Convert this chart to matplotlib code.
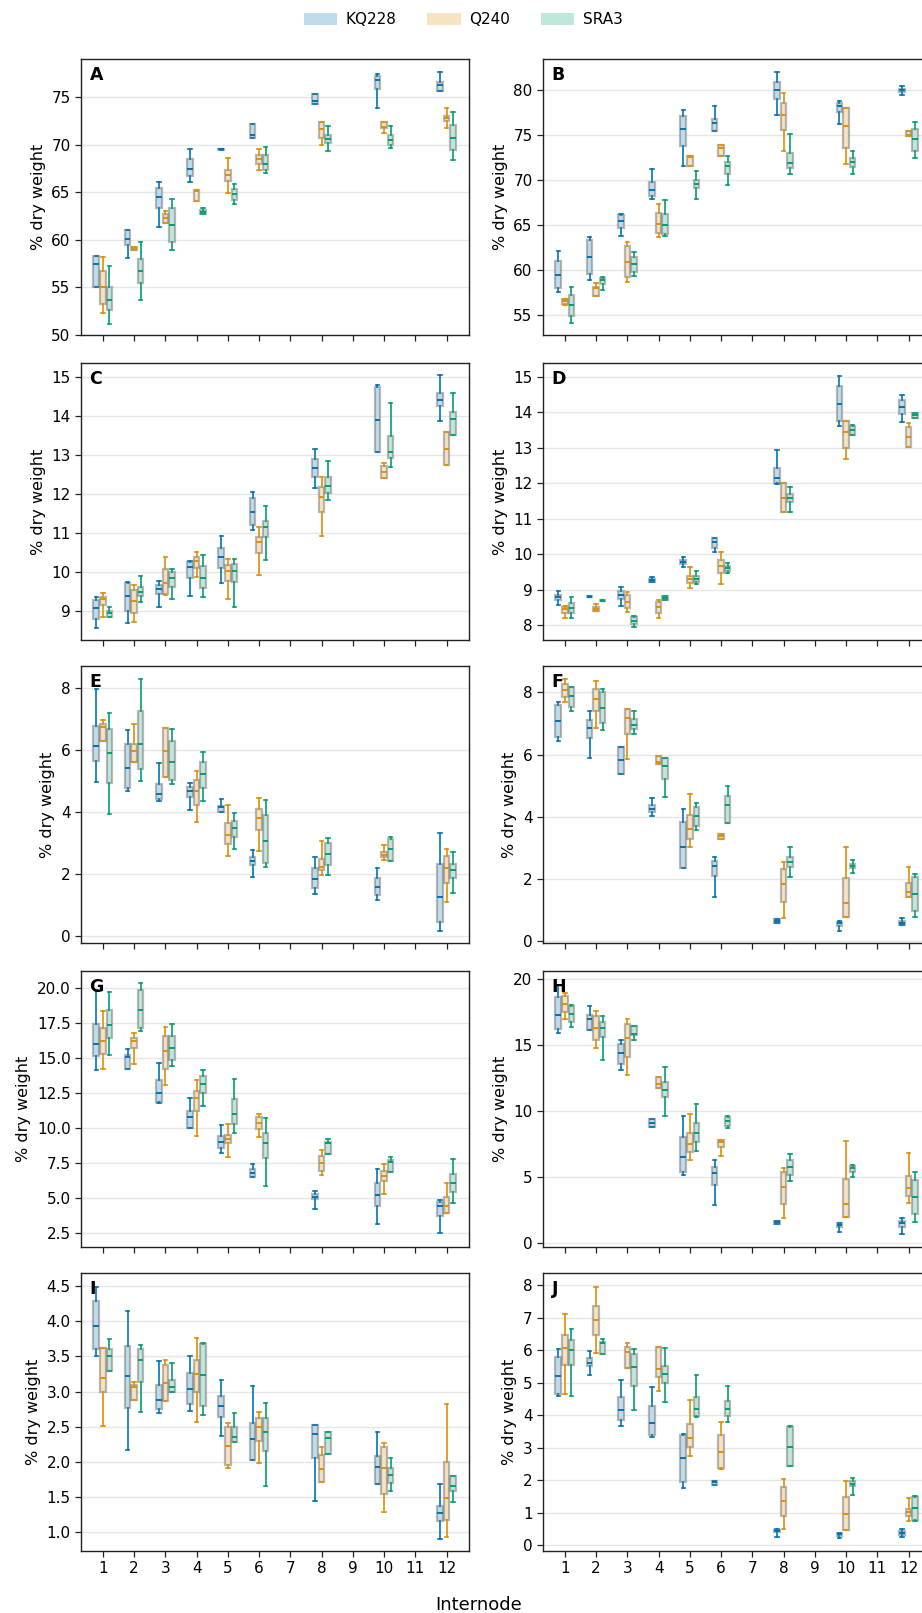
import matplotlib
matplotlib.use("Agg")
import matplotlib.pyplot as plt
from matplotlib.patches import Patch
from matplotlib.ticker import MultipleLocator

# ---------------- data ----------------
internodes = [1, 2, 3, 4, 5, 6, 8, 10, 12]
xticks = list(range(1, 13))
genotypes = ["KQ228", "Q240", "SRA3"]
colors = ["#0173B2", "#DE8F05", "#029E73"]
panel_letters = ["A", "B", "C", "D", "E", "F", "G", "H", "I", "J"]

# each row: [whisker_low, q1, median, q3, whisker_high], one row per internode
A_KQ228 = [[55.0, 55.0, 57.5, 58.3, 58.3], [58.05, 59.45, 60.05, 61.0, 61.0], [61.4, 63.3, 64.5, 65.4, 66.05],
           [66.07, 66.7, 67.45, 68.45, 69.5], [69.4, 69.4, 69.5, 69.55, 69.55], [70.65, 70.65, 71.0, 72.2, 72.2],
           [74.25, 74.25, 74.6, 75.3, 75.3], [73.8, 75.8, 76.8, 77.2, 77.4], [75.65, 75.65, 76.3, 76.6, 77.65]]
A_Q240 = [[52.35, 53.3, 55.0, 56.7, 58.2], [58.95, 58.95, 59.1, 59.25, 59.25], [61.8, 61.8, 62.25, 62.7, 63.05],
          [64.1, 64.1, 65.1, 65.2, 65.2], [64.9, 66.2, 66.85, 67.3, 68.55], [67.3, 68.0, 68.5, 68.9, 69.5],
          [70.0, 70.75, 71.6, 72.4, 72.4], [71.2, 71.7, 71.9, 72.4, 72.4], [71.75, 72.5, 72.8, 73.0, 73.9]]
A_SRA3 = [[51.2, 52.6, 53.7, 55.0, 57.25], [53.7, 55.5, 56.75, 57.95, 59.8], [58.9, 59.8, 61.55, 63.3, 64.3],
          [62.7, 62.7, 62.9, 63.1, 63.35], [63.75, 64.2, 64.8, 65.3, 65.85], [67.05, 67.3, 68.0, 68.9, 69.8],
          [69.35, 70.2, 70.55, 71.0, 71.95], [69.7, 69.95, 70.5, 71.0, 71.95], [68.4, 69.4, 70.75, 72.1, 73.45]]

B_KQ228 = [[57.6, 58.05, 59.45, 61.05, 62.1], [58.9, 59.6, 61.5, 63.35, 63.7], [63.85, 64.65, 65.5, 66.2, 66.3],
           [67.9, 68.3, 68.9, 69.85, 71.3], [71.6, 73.85, 75.75, 77.15, 77.8], [75.5, 75.5, 76.35, 76.8, 78.3],
           [77.25, 79.1, 80.1, 80.9, 82.05], [76.3, 77.6, 78.3, 78.65, 78.85], [79.5, 79.8, 80.0, 80.2, 80.5]]
B_Q240 = [[56.1, 56.3, 56.6, 56.85, 56.85], [57.1, 57.1, 58.0, 58.1, 58.6], [58.75, 59.2, 60.97, 62.7, 63.2],
          [63.7, 64.1, 65.1, 66.35, 67.35], [71.6, 71.6, 72.6, 72.7, 72.7], [72.75, 72.75, 73.65, 73.9, 73.9],
          [73.25, 75.6, 77.3, 78.65, 79.75], [71.8, 73.55, 76.05, 78.0, 78.0], [74.9, 74.9, 75.0, 75.5, 75.5]]
B_SRA3 = [[54.1, 54.9, 56.1, 57.2, 58.1], [57.85, 58.5, 58.95, 59.15, 59.25], [59.35, 59.8, 60.65, 61.5, 62.0],
          [63.8, 64.0, 65.0, 66.3, 67.8], [67.9, 69.1, 69.55, 70.0, 71.0], [69.45, 70.7, 71.6, 72.05, 72.7],
          [70.7, 71.4, 71.95, 73.0, 75.2], [70.7, 71.5, 72.0, 72.45, 73.3], [72.5, 73.25, 74.55, 75.7, 76.5]]

C_KQ228 = [[8.57, 8.8, 9.07, 9.27, 9.35], [8.68, 8.99, 9.38, 9.7, 9.74], [9.1, 9.44, 9.57, 9.66, 9.77],
           [9.37, 9.84, 10.12, 10.26, 10.28], [9.7, 10.09, 10.38, 10.62, 10.92], [11.07, 11.2, 11.54, 11.88, 12.05],
           [12.15, 12.44, 12.67, 12.89, 13.15], [13.08, 13.08, 13.88, 14.73, 14.79], [13.87, 14.25, 14.41, 14.57, 15.03]]
C_Q240 = [[8.85, 9.15, 9.29, 9.34, 9.45], [8.71, 8.93, 9.24, 9.53, 9.66], [9.4, 9.42, 9.72, 10.08, 10.37],
          [9.87, 10.1, 10.27, 10.38, 10.51], [9.29, 9.76, 10.02, 10.17, 10.32], [9.91, 10.47, 10.76, 10.9, 11.14],
          [10.92, 11.52, 11.91, 12.17, 12.44], [12.39, 12.39, 12.56, 12.72, 12.78], [12.74, 12.74, 13.15, 13.57, 13.57]]
C_SRA3 = [[8.85, 8.85, 8.93, 8.99, 9.09], [9.23, 9.38, 9.47, 9.6, 9.89], [9.29, 9.62, 9.83, 9.99, 10.07],
          [9.35, 9.59, 9.85, 10.15, 10.44], [9.09, 9.73, 10.03, 10.19, 10.33], [10.3, 10.9, 11.14, 11.29, 11.68],
          [11.84, 12.03, 12.2, 12.42, 12.85], [12.68, 12.91, 13.08, 13.48, 14.33], [13.5, 13.5, 13.91, 14.1, 14.58]]

D_KQ228 = [[8.58, 8.72, 8.78, 8.85, 8.95], [8.78, 8.78, 8.8, 8.82, 8.82], [8.54, 8.73, 8.85, 8.97, 9.08],
           [9.21, 9.21, 9.26, 9.3, 9.35], [9.64, 9.71, 9.78, 9.83, 9.91], [10.07, 10.18, 10.34, 10.46, 10.46],
           [11.97, 12.01, 12.14, 12.43, 12.95], [13.61, 13.76, 14.23, 14.75, 15.03], [13.73, 13.94, 14.15, 14.34, 14.48]]
D_Q240 = [[8.19, 8.33, 8.44, 8.5, 8.54], [8.39, 8.39, 8.46, 8.52, 8.59], [8.38, 8.47, 8.66, 8.86, 8.92],
          [8.19, 8.35, 8.52, 8.66, 8.72], [9.05, 9.2, 9.3, 9.39, 9.63], [9.15, 9.46, 9.66, 9.83, 10.05],
          [11.18, 11.18, 11.58, 12.01, 12.01], [12.68, 13.0, 13.44, 13.76, 13.76], [13.01, 13.01, 13.29, 13.59, 13.71]]
D_SRA3 = [[8.19, 8.33, 8.49, 8.63, 8.78], [8.68, 8.68, 8.69, 8.7, 8.7], [7.95, 8.02, 8.12, 8.22, 8.26],
          [8.71, 8.71, 8.76, 8.81, 8.81], [9.15, 9.22, 9.3, 9.38, 9.53], [9.46, 9.53, 9.6, 9.66, 9.76],
          [11.18, 11.46, 11.58, 11.69, 11.9], [13.37, 13.37, 13.51, 13.61, 13.63], [13.83, 13.83, 13.92, 13.99, 13.99]]

E_KQ228 = [[4.98, 5.65, 6.13, 6.78, 7.98], [4.68, 4.76, 5.43, 6.2, 6.64], [4.35, 4.41, 4.57, 4.9, 5.57],
           [4.05, 4.49, 4.69, 4.82, 4.92], [4.01, 4.01, 4.17, 4.2, 4.42], [1.9, 2.28, 2.41, 2.53, 2.78],
           [1.34, 1.55, 1.83, 2.17, 2.55], [1.15, 1.31, 1.57, 1.85, 2.17], [0.15, 0.45, 1.26, 2.3, 3.33]]
E_Q240 = [[6.31, 6.31, 6.74, 6.85, 6.97], [5.62, 5.62, 5.96, 6.2, 6.85], [5.14, 5.14, 5.96, 6.72, 6.73],
          [3.66, 4.23, 4.67, 5.03, 5.33], [2.57, 2.96, 3.25, 3.63, 4.22], [2.74, 3.41, 3.79, 4.08, 4.44],
          [1.96, 2.12, 2.23, 2.48, 3.07], [2.46, 2.55, 2.62, 2.69, 2.92], [1.09, 1.69, 2.19, 2.57, 2.79]]
E_SRA3 = [[3.92, 4.92, 5.9, 6.68, 7.19], [5.0, 5.38, 6.2, 7.27, 8.29], [4.89, 5.03, 5.62, 6.31, 6.69],
          [4.35, 4.78, 5.22, 5.6, 5.93], [2.79, 3.2, 3.49, 3.72, 3.97], [2.23, 2.36, 3.07, 3.91, 4.39],
          [1.96, 2.27, 2.65, 3.0, 3.17], [2.42, 2.42, 2.8, 3.11, 3.19], [1.39, 1.85, 2.11, 2.31, 2.71]]

F_KQ228 = [[6.44, 6.55, 7.08, 7.59, 7.68], [5.9, 6.52, 6.86, 7.11, 7.41], [5.36, 5.36, 5.82, 6.25, 6.25],
           [4.02, 4.14, 4.25, 4.39, 4.61], [2.33, 2.33, 3.02, 3.82, 4.26], [1.41, 2.09, 2.41, 2.57, 2.7],
           [0.58, 0.58, 0.65, 0.7, 0.7], [0.32, 0.48, 0.56, 0.62, 0.64], [0.51, 0.51, 0.58, 0.65, 0.74]]
F_Q240 = [[7.68, 7.84, 8.08, 8.27, 8.42], [6.86, 7.41, 7.79, 8.1, 8.38], [5.85, 6.65, 7.17, 7.46, 7.46],
          [5.69, 5.69, 5.77, 5.95, 5.96], [3.02, 3.29, 3.6, 4.04, 4.73], [3.29, 3.29, 3.37, 3.43, 3.43],
          [0.74, 1.24, 1.83, 2.32, 2.55], [0.78, 0.78, 1.23, 2.01, 3.03], [1.42, 1.42, 1.56, 1.87, 2.39]]
F_SRA3 = [[7.41, 7.54, 7.88, 8.18, 8.18], [6.79, 7.02, 7.51, 8.01, 8.12], [6.66, 6.81, 6.95, 7.14, 7.41],
          [4.63, 5.2, 5.63, 5.9, 5.9], [3.57, 3.71, 4.02, 4.32, 4.45], [3.81, 3.81, 4.39, 4.67, 4.98],
          [2.05, 2.39, 2.54, 2.69, 3.03], [2.17, 2.33, 2.4, 2.49, 2.6], [0.78, 0.96, 1.51, 2.04, 2.15]]

G_KQ228 = [[14.1, 15.1, 16.0, 17.39, 19.8], [14.22, 14.22, 15.06, 15.17, 15.6], [11.73, 11.8, 12.44, 13.39, 14.63],
           [9.95, 9.95, 10.78, 11.2, 12.13], [8.21, 8.57, 8.95, 9.42, 10.18], [6.45, 6.45, 6.78, 7.02, 7.38],
           [4.17, 4.88, 5.07, 5.24, 5.48], [3.12, 4.41, 5.19, 6.02, 7.07], [2.45, 3.72, 4.4, 4.71, 4.83]]
G_Q240 = [[14.15, 15.29, 16.2, 17.08, 18.34], [14.51, 15.65, 16.2, 16.41, 16.79], [13.04, 14.18, 15.46, 16.53, 17.2],
          [9.4, 11.2, 12.08, 12.61, 13.39], [7.88, 8.88, 9.18, 9.47, 10.23], [9.35, 9.87, 10.35, 10.73, 10.97],
          [6.62, 6.93, 7.5, 8.0, 8.4], [5.26, 6.19, 6.57, 6.93, 7.38], [3.93, 3.93, 4.4, 5.07, 6.02]]
G_SRA3 = [[15.22, 16.41, 17.36, 18.38, 19.69], [16.89, 17.12, 18.43, 19.81, 20.33], [14.41, 14.82, 15.65, 16.53, 17.39],
          [11.56, 12.44, 13.11, 13.68, 14.1], [9.64, 10.23, 11.0, 12.04, 13.44], [5.83, 7.81, 8.92, 9.64, 10.66],
          [8.11, 8.11, 8.88, 8.99, 9.18], [6.86, 6.86, 7.52, 7.69, 7.92], [4.64, 5.43, 6.02, 6.66, 7.78]]

H_KQ228 = [[15.96, 16.21, 17.32, 18.66, 19.55], [16.19, 16.19, 16.97, 17.32, 17.95], [13.16, 13.61, 14.42, 15.13, 15.38],
           [8.81, 8.81, 9.12, 9.44, 9.44], [5.15, 5.4, 6.54, 8.06, 9.62], [2.88, 4.39, 5.28, 5.78, 6.29],
           [1.44, 1.44, 1.57, 1.69, 1.69], [0.85, 1.24, 1.36, 1.49, 1.49], [0.7, 1.24, 1.49, 1.69, 1.87]]
H_Q240 = [[17.02, 17.53, 18.1, 18.71, 18.99], [14.8, 15.38, 16.34, 17.2, 17.6], [12.78, 14.12, 15.56, 16.64, 17.02],
          [11.79, 11.79, 12.05, 12.6, 12.6], [6.29, 6.92, 7.5, 8.36, 9.75], [6.59, 7.25, 7.68, 7.85, 7.85],
          [1.92, 2.93, 4.27, 5.35, 5.66], [2.0, 2.0, 2.93, 4.82, 7.75], [3.0, 3.59, 4.14, 5.08, 6.84]]
H_SRA3 = [[16.39, 16.77, 17.4, 17.95, 18.03], [13.91, 15.63, 16.34, 16.74, 17.22], [15.38, 15.76, 15.83, 16.44, 16.44],
          [9.65, 11.04, 11.64, 12.2, 13.36], [7.0, 7.68, 8.36, 9.14, 10.53], [8.76, 8.86, 9.27, 9.57, 9.62],
          [4.72, 5.15, 5.73, 6.29, 6.74], [5.03, 5.35, 5.71, 5.88, 5.91], [1.62, 2.2, 3.51, 4.77, 5.35]]

I_KQ228 = [[3.51, 3.6, 3.93, 4.29, 4.48], [2.17, 2.76, 3.22, 3.65, 4.14], [2.7, 2.75, 2.88, 3.09, 3.43],
           [2.73, 2.83, 3.03, 3.27, 3.5], [2.37, 2.64, 2.8, 2.94, 3.16], [2.03, 2.03, 2.33, 2.55, 3.08],
           [1.45, 2.05, 2.39, 2.52, 2.53], [1.68, 1.68, 1.93, 2.08, 2.42], [0.91, 1.16, 1.27, 1.38, 1.69]]
I_Q240 = [[2.51, 3.0, 3.19, 3.62, 3.62], [2.88, 2.88, 3.06, 3.09, 3.14], [2.86, 2.86, 3.12, 3.38, 3.45],
          [2.57, 3.0, 3.25, 3.45, 3.76], [1.91, 1.95, 2.22, 2.49, 2.56], [1.99, 2.3, 2.5, 2.63, 2.71],
          [1.72, 1.72, 1.9, 2.1, 2.21], [1.29, 1.55, 1.92, 2.21, 2.27], [0.94, 1.18, 1.49, 2.0, 2.83]]
I_SRA3 = [[3.29, 3.29, 3.51, 3.6, 3.75], [2.71, 3.14, 3.45, 3.61, 3.66], [3.0, 3.0, 3.06, 3.16, 3.4],
          [2.67, 2.79, 3.24, 3.68, 3.69], [2.29, 2.29, 2.36, 2.49, 2.7], [1.66, 2.15, 2.43, 2.62, 2.84],
          [2.11, 2.11, 2.34, 2.42, 2.42], [1.58, 1.7, 1.81, 1.92, 2.05], [1.43, 1.59, 1.66, 1.8, 1.8]]

J_KQ228 = [[4.59, 4.65, 5.21, 5.8, 6.05], [5.25, 5.51, 5.62, 5.75, 5.98], [3.67, 3.85, 4.16, 4.57, 5.08],
           [3.32, 3.39, 3.77, 4.29, 4.86], [1.77, 1.96, 2.69, 3.39, 3.44], [1.85, 1.85, 1.94, 1.98, 1.98],
           [0.25, 0.4, 0.44, 0.47, 0.5], [0.22, 0.29, 0.35, 0.39, 0.39], [0.25, 0.32, 0.39, 0.45, 0.5]]
J_Q240 = [[4.65, 5.54, 6.07, 6.48, 7.13], [5.93, 6.48, 6.94, 7.36, 7.95], [5.46, 5.46, 5.95, 6.11, 6.23],
          [4.74, 5.18, 5.44, 6.11, 6.11], [2.76, 3.03, 3.29, 3.72, 4.47], [2.34, 2.39, 2.88, 3.41, 3.79],
          [0.5, 0.9, 1.36, 1.78, 2.05], [0.47, 0.47, 0.96, 1.5, 1.98], [0.76, 0.9, 1.01, 1.11, 1.47]]
J_SRA3 = [[4.6, 5.54, 6.02, 6.31, 6.65], [5.9, 5.9, 6.23, 6.26, 6.36], [4.16, 4.91, 5.49, 5.88, 6.05],
          [4.4, 4.98, 5.27, 5.52, 6.07], [3.95, 3.98, 4.19, 4.57, 5.23], [3.78, 3.98, 4.18, 4.45, 4.91],
          [2.44, 2.44, 3.03, 3.63, 3.68], [1.55, 1.83, 1.9, 1.99, 2.06], [0.76, 0.78, 1.14, 1.5, 1.53]]

panel_data = [
    (A_KQ228, A_Q240, A_SRA3), (B_KQ228, B_Q240, B_SRA3),
    (C_KQ228, C_Q240, C_SRA3), (D_KQ228, D_Q240, D_SRA3),
    (E_KQ228, E_Q240, E_SRA3), (F_KQ228, F_Q240, F_SRA3),
    (G_KQ228, G_Q240, G_SRA3), (H_KQ228, H_Q240, H_SRA3),
    (I_KQ228, I_Q240, I_SRA3), (J_KQ228, J_Q240, J_SRA3),
]
ylims = [(50, 79), (52.8, 83.5), (8.25, 15.35), (7.58, 15.39), (-0.24, 8.72),
         (-0.07, 8.85), (1.48, 21.18), (-0.3, 20.63), (0.734, 4.685), (-0.175, 8.38)]
ysteps = [5, 5, 1, 1, 2, 2, 2.5, 5, 0.5, 1]

# ---------------- figure ----------------
W, H = 922, 1613
fig = plt.figure(figsize=(W / 100, H / 100), dpi=100)
plt.rcParams['font.family'] = ['DejaVu Sans']

col_left = [81, 543]
ax_w = 388
rows = [(59, 335), (363, 640), (666, 943), (971, 1247), (1273, 1551)]

def light(c, a=0.25):
    r, g, b = matplotlib.colors.to_rgb(c)
    return (1 - a + a * r, 1 - a + a * g, 1 - a + a * b)

offsets = [-0.21, 0.0, 0.21]
for i in range(10):
    r, cidx = divmod(i, 2)
    top, bot = rows[r]
    ax = fig.add_axes([col_left[cidx] / W, 1 - bot / H, ax_w / W, (bot - top) / H])
    for g in range(3):
        series = panel_data[i][g]
        stats = [dict(whislo=s[0], q1=s[1], med=s[2], q3=s[3], whishi=s[4], fliers=[]) for s in series]
        pos = [x + offsets[g] for x in internodes]
        ax.bxp(stats, positions=pos, widths=0.18, patch_artist=True, showfliers=False,
               manage_ticks=False, capwidths=0.11,
               boxprops=dict(facecolor=light(colors[g]), edgecolor=(0.45, 0.45, 0.45, 0.5), linewidth=1.6),
               medianprops=dict(color=colors[g], linewidth=1.4),
               whiskerprops=dict(color=colors[g], linewidth=1.2),
               capprops=dict(color=colors[g], linewidth=1.2))
    ax.set_xlim(0.3, 12.72)
    ax.set_ylim(*ylims[i])
    ax.yaxis.set_major_locator(MultipleLocator(ysteps[i]))
    ax.set_xticks(xticks)
    if r == 4:
        ax.set_xticklabels([str(t) for t in xticks])
    else:
        ax.set_xticklabels([])
    ax.tick_params(labelsize=11, length=4, width=0.9, color='#222222')
    ax.grid(axis='y', color='#e6e6e6', linewidth=1.0)
    ax.set_axisbelow(True)
    for sp in ax.spines.values():
        sp.set_color('#222222')
        sp.set_linewidth(1.0)
    ax.set_ylabel('% dry weight', fontsize=11.5)
    ax.text(0.022, 0.975, panel_letters[i], transform=ax.transAxes, ha='left', va='top',
            fontsize=12.5, fontweight='bold')

handles = [Patch(facecolor=light(c), edgecolor='none') for c in colors]
fig.legend(handles, genotypes, loc='center', bbox_to_anchor=(463 / W, 1 - 20 / H), ncol=3,
           frameon=False, fontsize=11, handlelength=2.2, handleheight=0.8, handletextpad=0.55,
           columnspacing=2.0)
fig.text(478.5 / W, 1 - 1610 / H, 'Internode', ha='center', va='baseline', fontsize=13)

fig.savefig('out.png', dpi=100)
